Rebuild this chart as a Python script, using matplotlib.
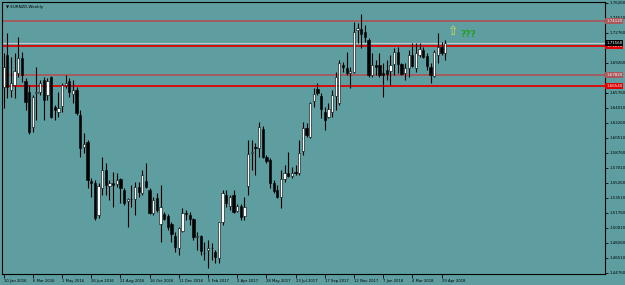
import matplotlib
matplotlib.use("Agg")
import matplotlib.pyplot as plt

# weekly EURNZD candles (first bar = week of 10 Jan 2016)
opens = [1.6642, 1.7016, 1.6607, 1.6666, 1.6806, 1.6981, 1.6712, 1.6584, 1.6176, 1.6572,
         1.6584, 1.6724, 1.6549, 1.6759, 1.6409, 1.6351, 1.6421, 1.6666, 1.6712, 1.6561,
         1.6607, 1.6316, 1.5942, 1.6001, 1.5546, 1.5523, 1.5149, 1.5464, 1.5674, 1.5488,
         1.5523, 1.5511, 1.5569, 1.5441, 1.5313, 1.5336, 1.5336, 1.5476, 1.5406, 1.5546,
         1.5441, 1.5173, 1.5348, 1.5044, 1.5161, 1.5138, 1.5044, 1.4904, 1.4764, 1.4963,
         1.5173, 1.5149, 1.5103, 1.4893, 1.4904, 1.4706, 1.4741, 1.4764, 1.4718, 1.4648,
         1.5068, 1.5383, 1.5254, 1.5383, 1.5196, 1.5254, 1.5138, 1.5488, 1.5872, 1.5942,
         1.5931, 1.6152, 1.5826, 1.5791, 1.5523, 1.5441, 1.5359, 1.5569, 1.5639, 1.5604,
         1.5645, 1.5639, 1.5896, 1.6164, 1.6059, 1.6479, 1.6619, 1.6537, 1.6351, 1.6292,
         1.6351, 1.6537, 1.6456, 1.6899, 1.6864, 1.6806, 1.6817, 1.7307, 1.7319, 1.7284,
         1.7191, 1.6782, 1.6899, 1.6899, 1.6806, 1.6841, 1.6829, 1.6911, 1.7051, 1.6911,
         1.6806, 1.6864, 1.7016, 1.6864, 1.7016, 1.7074, 1.7004, 1.6876, 1.6771, 1.7016,
         1.7109, 1.7039]
highs = [1.7039, 1.7272, 1.6992, 1.7039, 1.7226, 1.7051, 1.6747, 1.6666, 1.6549, 1.6876,
         1.6724, 1.6759, 1.6747, 1.6771, 1.6432, 1.6584, 1.6689, 1.6782, 1.6747, 1.6724,
         1.6642, 1.6374, 1.6106, 1.6024, 1.5581, 1.5558, 1.5523, 1.5826, 1.5756, 1.5558,
         1.5651, 1.5639, 1.5581, 1.5464, 1.5348, 1.5499, 1.5534, 1.5534, 1.5674, 1.5756,
         1.5464, 1.5359, 1.5406, 1.5499, 1.5184, 1.5161, 1.5068, 1.4951, 1.5009, 1.5231,
         1.5208, 1.5184, 1.5114, 1.4951, 1.4916, 1.4834, 1.4858, 1.4823, 1.4741, 1.5068,
         1.5441, 1.5441, 1.5383, 1.5441, 1.5278, 1.5278, 1.5359, 1.6024, 1.6024, 1.5989,
         1.6234, 1.6187, 1.5849, 1.5814, 1.5558, 1.5499, 1.5674, 1.5733, 1.5884, 1.5709,
         1.5733, 1.6024, 1.6234, 1.6222, 1.6467, 1.6631, 1.6689, 1.6572, 1.6409, 1.6456,
         1.6607, 1.6817, 1.6957, 1.6934, 1.7051, 1.6876, 1.7401, 1.7389, 1.7494, 1.7366,
         1.7214, 1.7039, 1.6957, 1.7039, 1.6922, 1.6957, 1.7016, 1.7097, 1.7109, 1.6922,
         1.6922, 1.7074, 1.7156, 1.7156, 1.7156, 1.7109, 1.7039, 1.6922, 1.7074, 1.7272,
         1.7167, 1.7191]
lows = [1.6397, 1.6514, 1.6526, 1.6514, 1.6759, 1.6701, 1.6374, 1.6094, 1.6117, 1.6257,
        1.6549, 1.6257, 1.6491, 1.6281, 1.6257, 1.6292, 1.6351, 1.6631, 1.6526, 1.6456,
        1.6316, 1.5826, 1.5872, 1.5464, 1.5359, 1.5091, 1.5114, 1.5383, 1.5383, 1.5324,
        1.5243, 1.5476, 1.5289, 1.5266, 1.5009, 1.5243, 1.5149, 1.5359, 1.5383, 1.5464,
        1.5161, 1.5149, 1.5184, 1.4834, 1.5091, 1.4974, 1.4834, 1.4718, 1.4683, 1.4951,
        1.5091, 1.5033, 1.4858, 1.4741, 1.4683, 1.4624, 1.4531, 1.4624, 1.4589, 1.4589,
        1.5033, 1.5243, 1.5208, 1.5173, 1.5184, 1.5091, 1.5091, 1.5383, 1.5674, 1.5616,
        1.5826, 1.5814, 1.5756, 1.5464, 1.5406, 1.5348, 1.5231, 1.5534, 1.5593, 1.5581,
        1.5616, 1.5616, 1.5849, 1.6059, 1.6047, 1.6409, 1.6549, 1.6281, 1.6141, 1.6281,
        1.6292, 1.6374, 1.6432, 1.6817, 1.6782, 1.6631, 1.6806, 1.7156, 1.7097, 1.7167,
        1.6759, 1.6759, 1.6782, 1.6759, 1.6526, 1.6724, 1.6666, 1.6782, 1.6806, 1.6782,
        1.6724, 1.6759, 1.6876, 1.6817, 1.6992, 1.6981, 1.6841, 1.6689, 1.6759, 1.6922,
        1.7016, 1.6957]
closes = [1.6876, 1.6642, 1.6689, 1.6829, 1.6981, 1.6782, 1.6467, 1.6117, 1.6526, 1.6584,
          1.6689, 1.6491, 1.6712, 1.6292, 1.6374, 1.6397, 1.6666, 1.6689, 1.6584, 1.6607,
          1.6339, 1.5931, 1.5977, 1.5558, 1.5523, 1.5114, 1.5488, 1.5674, 1.5499, 1.5523,
          1.5499, 1.5558, 1.5464, 1.5289, 1.5336, 1.5340, 1.5476, 1.5418, 1.5616, 1.5476,
          1.5173, 1.5324, 1.5208, 1.5243, 1.5103, 1.5009, 1.4928, 1.4776, 1.4998, 1.5173,
          1.5161, 1.5103, 1.4893, 1.4904, 1.4729, 1.4710, 1.4764, 1.4760, 1.4659, 1.5068,
          1.5406, 1.5289, 1.5359, 1.5184, 1.5254, 1.5126, 1.5243, 1.5861, 1.5884, 1.5931,
          1.6176, 1.5826, 1.5779, 1.5523, 1.5429, 1.5359, 1.5569, 1.5639, 1.5604, 1.5639,
          1.5635, 1.5872, 1.6164, 1.6082, 1.6456, 1.6561, 1.6572, 1.6386, 1.6257, 1.6386,
          1.6549, 1.6759, 1.6922, 1.6876, 1.6806, 1.6829, 1.7284, 1.7331, 1.7261, 1.7226,
          1.6782, 1.6899, 1.6876, 1.6782, 1.6782, 1.6794, 1.6899, 1.7051, 1.6911, 1.6794,
          1.6864, 1.7016, 1.6887, 1.7039, 1.7086, 1.6992, 1.6887, 1.6782, 1.7051, 1.7109,
          1.7039, 1.7156]

date_labels = ["10 Jan 2016", "6 Mar 2016", "1 May 2016", "26 Jun 2016", "21 Aug 2016",
               "16 Oct 2016", "11 Dec 2016", "5 Feb 2017", "2 Apr 2017", "28 May 2017",
               "23 Jul 2017", "17 Sep 2017", "12 Nov 2017", "7 Jan 2018", "4 Mar 2018",
               "29 Apr 2018"]
weeks_per_label = 8

# price scale labels (the ones hidden behind the level boxes are left out)
price_ticks = [1.44760, 1.46510, 1.48260, 1.50010, 1.51760, 1.53510, 1.55260, 1.57010,
               1.58760, 1.60510, 1.62260, 1.64010, 1.65760, 1.69260, 1.72760, 1.74510,
               1.76260]

levels = [1.74120, 1.71210, 1.67820, 1.66540]
level_colors = ["#a8585a", "#e00000", "#a8585a", "#e00000"]
bid = 1.71560

bg = "#5f9ea0"
fig = plt.figure(figsize=(6.25, 2.85), dpi=100)
fig.patch.set_facecolor(bg)
ax = fig.add_axes([2 / 625, 11 / 285, 603 / 625, 272 / 285])
ax.set_facecolor(bg)

n = len(opens)
for i in range(n):
    o, h, l, c = opens[i], highs[i], lows[i], closes[i]
    ax.vlines(i, l, h, color="black", lw=0.8, zorder=3)
    up = c >= o
    ax.bar(i, max(abs(c - o), 0.0003), bottom=min(o, c), width=0.62,
           color="white" if up else "black", edgecolor="black", lw=0.4, zorder=4)

box_font = 2.9
for lv, col in zip(levels, level_colors):
    ax.axhline(lv, color=col, lw=1.3, zorder=2)
    ax.text(1.002, lv, "%.5f" % lv, transform=ax.get_yaxis_transform(), fontsize=box_font,
            color="white", va="center", ha="left",
            bbox=dict(boxstyle="square,pad=0.2", fc=col, ec="none"), clip_on=False)
ax.axhline(bid, color="#c8c8c8", lw=0.8, zorder=1)
ax.text(1.002, bid, "%.5f" % bid, transform=ax.get_yaxis_transform(), fontsize=box_font,
        color="white", va="center", ha="left",
        bbox=dict(boxstyle="square,pad=0.2", fc="black", ec="none"), clip_on=False)

ax.set_xlim(-0.45, 164.8)
ax.set_ylim(1.44608, 1.76342)

ax.yaxis.tick_right()
ax.set_yticks(price_ticks)
ax.set_yticklabels(["%.5f" % p for p in price_ticks])
ax.tick_params(axis="y", length=2, width=0.6, labelsize=2.9, pad=1, colors="black")

xt = [k * weeks_per_label for k in range(len(date_labels))]
ax.set_xticks(xt)
ax.set_xticklabels(date_labels, ha="left")
ax.tick_params(axis="x", length=3, width=0.6, labelsize=2.7, pad=0.5, colors="black")

for s in ax.spines.values():
    s.set_color("black")
    s.set_linewidth(0.8)

ax.text(0.006, 0.99, "\u25bc EURNZD,Weekly", transform=ax.transAxes, fontsize=2.9,
        va="top", ha="left", color="black")
ax.text(123.3, 1.7290, "\u21e7", fontsize=9, color="#d0e050", ha="center", va="center")
ax.text(125.3, 1.7250, "???", fontsize=6.5, color="#20a020", ha="left", va="center",
        fontweight="bold")

fig.savefig("out.png", dpi=100, facecolor=bg)
